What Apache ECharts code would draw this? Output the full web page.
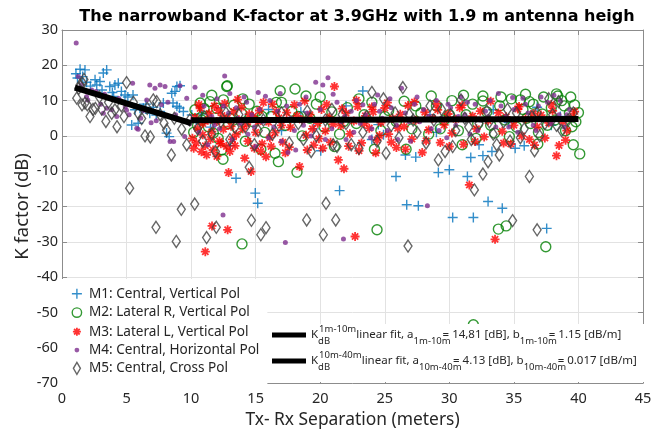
<!DOCTYPE html>
<html><head><meta charset="utf-8">
<script src="https://cdn.jsdelivr.net/npm/echarts@6/dist/echarts.min.js"></script>
<style>html,body{margin:0;padding:0;background:#fff}#c{width:669px;height:430px}</style>
</head><body><div id="c"></div>
<script>
const titleText = 'The narrowband K-factor at 3.9GHz with 1.9 m antenna heigh';
const xName = 'Tx- Rx Separation (meters)';
const yName = 'K factor (dB)';
const seriesNames = ['M1: Central, Vertical Pol','M2: Lateral R, Vertical Pol','M3: Lateral L, Vertical Pol','M4: Central, Horizontal Pol','M5: Central, Cross Pol'];
const fitNames = ['fit1','fit2'];

const m1 = [[1.08,17.6],[1.2,16.4],[1.4,18.9],[1.6,16.8],[1.78,18.7],[1.9,15.2],[2.2,14.1],[2.56,15.9],[2.69,14.4],[2.94,15.4],[3.1,13.0],[3.2,17.8],[3.46,18.7],[3.7,14.0],[3.9,12.3],[4.0,11.2],[4.1,14.4],[4.36,14.9],[4.6,12.6],[4.88,11.6],[5.1,11.0],[5.5,11.6],[5.4,3.1],[5.9,3.6],[5.66,7.4],[6.04,7.8],[6.3,7.8],[6.5,9.0],[6.8,6.4],[7.07,8.1],[7.3,5.9],[7.6,6.9],[7.85,9.3],[8.1,0.8],[8.3,-0.2],[8.5,12.1],[8.75,12.6],[8.9,14.0],[9.14,14.2],[8.6,9.3],[8.9,8.4],[9.1,7.9],[9.4,6.9],[10.05,5.9],[10.4,4.5],
[10.8,6.2],[11.5,2.5],[12.3,8.0],[13.04,-2.8],[13.48,-12.0],[14.2,5.0],[14.97,-16.2],[15.16,-19.1],[16.0,7.5],[17.0,1.5],[18.5,6.8],[19.5,2.0],[20.04,-4.2],[21.5,-15.5],[22.0,8.5],[23.3,12.7],[24.0,-1.0],[24.5,3.2],[24.9,0.3],[25.87,-11.5],[26.6,-5.4],[26.7,-19.5],[27.4,-6.0],[27.6,-19.8],[28.5,6.0],[29.0,1.0],[29.15,-10.4],[30.0,-9.6],[30.26,-23.1],[31.4,-11.5],[31.66,-6.1],[31.86,-23.1],[32.3,-2.5],[32.6,-5.6],[33.0,-18.6],[33.3,-4.4],[33.4,7.4],[34.1,-20.5],[34.6,3.8],[35.1,-3.5],[35.8,-2.8],[36.8,8.1],[37.54,-26.2],[37.9,3.0],[38.6,5.5]];

const m2 = [[10.2,1.0],[10.3,7.4],[10.5,3.0],[10.7,9.3],[10.82,4.5],[11.0,7.8],[11.2,5.6],[11.34,2.6],[11.46,9.7],[11.6,11.5],[11.72,0.8],[11.98,7.8],[12.1,-0.7],[12.37,-4.0],[12.47,-6.6],[12.5,10.2],[12.76,14.0],[12.8,14.2],[12.9,3.5],[13.0,5.0],[13.3,8.7],[13.6,2.0],[13.9,6.5],[13.94,-30.6],[14.0,10.5],[14.2,-1.5],[14.5,9.0],[14.8,4.0],[15.1,7.0],[15.4,-3.8],[15.5,5.5],[15.7,1.0],[16.2,5.5],[16.5,-4.9],[16.6,9.5],[16.76,-7.3],[16.9,12.8],[17.0,9.5],[17.3,3.0],[17.8,7.0],[18.05,13.3],[18.2,-10.3],[18.3,5.5],[18.6,0.0],[18.9,11.3],[19.2,5.0],[19.7,9.0],[20.0,11.0],[20.3,2.5],[20.9,6.8],[21.1,-3.0],[21.5,0.5],[21.8,4.0],[22.1,8.0],[22.8,3.5],[23.0,10.5],[23.4,6.0],[24.0,9.5],[24.2,-3.8],[24.4,-26.6],[24.7,1.5],[25.0,5.5],[25.3,7.2],[25.9,4.0],[26.5,9.8],[26.65,-3.8],[27.1,2.0],[27.4,8.5],[27.8,6.5],[28.4,0.5],[28.6,11.3],[29.0,8.5],[29.3,2.0],[29.6,4.5],[30.0,6.0],[30.2,10.0],[30.7,1.5],[31.0,-2.5],[31.1,11.5],[31.3,6.0],[31.8,9.0],[31.86,-53.5],[32.07,-0.7],[32.2,3.5],[32.6,11.3],[32.6,9.9],[32.9,6.8],[33.2,3.0],[33.5,0.8],[33.8,-26.4],[33.9,8.5],[34.0,11.0],[34.3,4.5],[34.4,-25.5],[34.65,-0.2],[34.8,10.5],[35.2,2.5],[35.5,10.2],[35.7,7.5],[35.9,11.8],[36.0,5.0],[36.2,9.7],[36.3,3.5],[36.5,9.0],[36.85,-2.3],[36.9,1.0],[37.2,6.2],[37.3,11.0],[37.47,-31.4],[37.6,3.0],[37.9,8.0],[38.2,4.5],[38.3,11.9],[38.4,11.3],[38.7,10.0],[38.9,8.5],[39.0,1.5],[39.3,6.5],[39.4,11.0],[39.5,2.6],[39.6,-2.5],[39.7,8.8],[39.8,4.0],[40.0,6.6],[40.1,-5.1]];

const m3 = [[10.1,-0.7],[10.2,-3.5],[10.3,5.2],[10.4,-2.0],[10.5,2.1],[10.6,8.9],[10.7,7.8],[10.8,-4.5],[10.9,3.5],[10.9,0.3],[11.1,-2.8],[11.1,-32.8],[11.2,-5.4],[11.3,4.4],[11.4,6.3],[11.5,-1.0],[11.6,1.2],[11.62,-25.5],[11.7,-4.0],[11.8,8.5],[12.0,4.1],[12.0,-5.8],[12.1,7.3],[12.2,-1.5],[12.3,-2.2],[12.4,5.8],[12.5,1.9],[12.6,9.2],[12.73,-3.0],[12.8,5.0],[12.83,-26.6],[12.9,-10.4],[13.0,-4.4],[13.1,2.7],[13.2,-1.0],[13.3,6.9],[13.4,-2.8],[13.5,0.4],[13.6,10.3],[13.7,4.6],[13.9,8.1],[14.0,2.0],[14.15,-6.3],[14.3,3.3],[14.4,-1.5],[14.5,6.1],[14.64,-10.1],[14.8,5.5],[14.9,-3.5],[15.0,1.0],[15.2,4.0],[15.3,7.2],[15.4,-4.4],[15.5,-2.2],[15.6,9.5],[15.8,-5.9],[16.0,3.9],[16.1,-0.5],[16.2,-3.0],[16.3,9.0],[16.5,0.9],[16.6,6.9],[16.8,5.1],[17.0,3.0],[17.1,-1.8],[17.3,-4.8],[17.4,6.6],[17.6,-3.2],[17.7,2.4],[18.0,8.8],[18.2,5.7],[18.4,-8.7],[18.6,4.5],[18.8,9.9],[18.9,0.2],[19.0,-4.0],[19.2,6.0],[19.4,2.0],[19.5,-2.6],[19.8,3.6],[19.9,-0.8],[20.1,7.5],[20.2,-3.5],[20.4,1.4],[20.5,8.9],[20.7,5.3],[20.8,-1.8],[21.0,3.3],[21.1,14.0],[21.4,-6.8],[21.6,2.9],[21.7,7.7],[21.84,-9.3],[22.0,6.4],[22.2,-2.9],[22.3,0.6],[22.6,4.2],[22.7,-28.5],[22.8,10.1],[22.9,8.3],[23.0,-4.2],[23.2,-2.0],[23.4,3.5],[23.5,5.7],[23.8,2.2],[24.0,8.2],[24.1,6.8],[24.3,-4.8],[24.4,-1.2],[24.6,0.1],[24.7,3.8],[25.0,7.9],[25.2,9.4],[25.3,0.5],[25.5,-1.8],[25.6,4.9],[25.9,-3.3],[26.0,2.2],[26.2,6.1],[26.5,2.6],[26.6,-3.8],[26.8,8.6],[27.1,-0.9],[27.3,9.6],[27.4,4.4],[27.9,-4.7],[28.1,6.7],[28.2,-1.4],[28.4,1.7],[28.7,5.0],[29.0,9.1],[29.1,7.4],[29.3,-1.9],[29.6,3.1],[29.9,6.2],[30.0,-3.0],[30.2,0.8],[30.5,4.7],[30.8,8.0],[31.0,8.7],[31.1,-2.4],[31.55,-13.9],[31.8,5.6],[32.0,-1.6],[32.1,2.0],[32.4,7.0],[32.7,-0.3],[33.0,4.3],[33.2,9.8],[33.54,-29.3],[33.8,6.5],[34.1,1.3],[34.2,-2.0],[34.4,5.4],[34.76,-2.3],[35.0,3.0],[35.3,7.6],[35.4,8.3],[35.6,0.0],[35.9,4.8],[36.2,-1.0],[36.5,6.3],[36.6,-2.6],[36.8,2.5],[37.1,5.9],[37.4,-0.6],[37.7,3.7],[37.9,8.9],[38.0,7.1],[38.3,-5.6],[38.5,-2.7],[38.8,4.0],[39.0,-1.2],[39.1,1.5],[39.4,5.2],[39.7,6.9]];

const m4 = [[1.1,26.3],[1.26,16.8],[1.5,14.5],[1.9,11.1],[2.0,10.2],[2.3,13.0],[2.63,12.6],[3.0,9.0],[3.2,6.4],[3.3,11.8],[3.46,7.8],[3.85,7.4],[4.24,5.5],[4.4,10.6],[4.6,9.8],[4.9,8.2],[5.0,7.3],[5.2,6.0],[5.47,14.9],[5.79,2.2],[5.9,1.9],[6.1,5.0],[6.3,7.2],[6.56,10.2],[6.8,14.4],[6.9,3.7],[7.2,13.5],[7.3,4.3],[7.6,14.4],[7.7,8.8],[7.98,14.0],[8.2,9.5],[8.37,-1.6],[8.65,-1.6],[8.8,6.0],[9.14,14.2],[9.5,-0.2],[9.66,10.7],[9.9,3.5],
[10.1,4.5],[10.3,13.8],[10.6,1.0],[10.9,11.5],[11.0,8.5],[11.3,-2.5],[11.6,5.5],[11.8,3.0],[12.0,10.5],[12.2,2.0],[12.47,-22.4],[12.5,8.5],[12.6,17.0],[12.9,6.5],[13.0,12.0],[13.2,-1.0],[13.5,8.0],[13.6,5.0],[13.8,3.5],[14.1,11.0],[14.3,9.5],[14.4,0.5],[14.7,6.0],[14.9,2.5],[15.0,-3.0],[15.2,12.3],[15.3,7.5],[15.5,4.0],[15.76,11.2],[16.0,-0.5],[16.1,10.0],[16.4,2.5],[16.7,7.0],[16.9,12.0],[17.0,-1.5],[17.3,-30.2],[17.4,8.5],[17.5,-4.7],[17.7,5.0],[18.0,1.5],[18.1,-4.0],[18.4,9.0],[18.7,3.0],[18.9,11.0],[19.0,6.5],[19.3,0.0],[19.6,4.5],[19.65,15.2],[20.0,7.5],[20.2,14.4],[20.4,-1.0],[20.6,16.5],[20.9,2.0],[21.0,11.8],[21.3,9.5],[21.6,4.0],[21.8,-29.2],[21.9,5.5],[22.0,-1.0],[22.4,7.0],[22.6,1.0],[22.8,10.0],[23.1,3.5],[23.3,8.8],[23.5,6.0],[23.9,-0.5],[24.0,2.0],[24.2,9.0],[24.45,11.6],[24.6,7.0],[24.8,5.0],[25.2,1.5],[25.4,10.5],[25.5,8.0],[25.9,3.0],[26.0,-1.0],[26.3,13.5],[26.6,6.5],[26.9,4.0],[27.0,-1.5],[27.3,9.0],[27.5,11.0],[27.7,4.0],[28.0,7.5],[28.3,-19.8],[28.4,5.5],[28.6,2.0],[29.0,10.0],[29.2,1.5],[29.4,5.0],[29.8,-0.5],[29.9,9.0],[30.1,8.0],[30.5,3.0],[30.7,5.5],[30.9,11.0],[31.2,6.0],[31.4,9.5],[31.6,0.5],[32.0,9.0],[32.2,1.5],[32.4,4.5],[32.8,7.0],[33.0,5.5],[33.15,10.0],[33.6,2.5],[33.8,12.0],[34.0,8.5],[34.4,5.5],[34.6,2.5],[34.9,10.9],[35.0,7.5],[35.3,1.0],[35.7,10.7],[35.9,9.0],[36.1,6.5],[36.5,3.0],[36.7,1.5],[36.9,8.5],[37.1,11.0],[37.3,4.5],[37.6,9.5],[37.9,3.5],[38.1,11.5],[38.5,6.0],[38.6,10.0],[38.9,2.5],[39.1,6.0],[39.3,7.5],[39.6,4.5]];

const m5 = [[1.14,10.7],[1.3,13.5],[1.4,14.4],[1.55,8.8],[1.6,14.9],[1.7,16.0],[1.78,9.3],[1.96,8.8],[2.17,5.5],[2.4,7.5],[2.58,7.8],[2.9,11.0],[3.07,7.6],[3.4,4.1],[3.6,9.5],[3.85,6.4],[4.1,7.4],[4.26,2.6],[4.6,8.5],[4.8,5.5],[5.0,15.1],[5.24,-14.8],[5.53,9.5],[5.9,6.4],[6.17,4.9],[6.43,0.0],[6.6,7.8],[6.84,-0.3],[7.07,10.2],[7.28,-25.9],[7.33,9.7],[7.6,6.0],[7.9,3.6],[8.1,1.7],[8.47,-5.4],[8.7,5.0],[8.85,-29.9],[9.24,-20.8],[9.27,1.9],[9.66,-2.5],[9.9,4.5],
[10.28,-19.3],[10.5,2.0],[10.9,-1.5],[11.0,5.5],[11.2,-28.8],[11.6,0.5],[11.88,-4.4],[11.95,-25.9],[12.3,4.0],[12.7,6.5],[13.0,-1.0],[13.4,2.5],[13.7,6.0],[14.2,2.5],[14.5,-8.9],[14.67,-23.9],[14.9,-2.5],[15.2,1.5],[15.4,-28.0],[15.6,4.5],[15.8,-26.0],[16.3,0.5],[16.8,3.0],[17.0,6.5],[17.6,-2.0],[18.3,3.5],[18.7,-1.0],[18.95,-23.8],[19.0,7.0],[19.3,-4.4],[19.7,0.0],[20.24,-28.0],[20.4,4.5],[20.45,-19.1],[20.9,7.5],[21.0,-2.5],[21.2,-23.8],[21.3,-3.0],[21.7,6.0],[22.0,3.5],[22.4,-2.5],[23.0,-3.5],[23.3,1.0],[23.6,5.5],[24.0,12.3],[24.4,-1.5],[24.9,10.5],[25.1,-4.9],[25.5,3.0],[25.8,6.5],[26.1,-0.5],[26.4,13.7],[26.8,-31.2],[26.9,6.0],[27.2,4.5],[27.5,1.0],[28.2,-2.0],[28.5,8.5],[28.8,4.5],[29.15,-6.8],[29.4,7.5],[29.67,-4.4],[30.1,6.0],[30.26,-3.0],[30.5,1.5],[30.9,10.2],[31.2,5.0],[31.5,2.5],[31.7,-1.0],[31.94,-15.3],[32.3,3.5],[32.6,-10.8],[32.9,7.0],[33.0,-7.3],[33.1,4.0],[33.4,0.5],[33.67,-2.5],[33.87,-5.4],[34.2,4.0],[34.5,7.5],[34.7,-1.5],[34.9,-24.0],[35.2,6.5],[35.5,-0.5],[35.8,2.0],[36.2,-11.5],[36.4,5.5],[36.6,-4.2],[36.8,-26.6],[36.8,6.5],[37.0,0.0],[37.4,3.5],[37.7,10.5],[38.0,6.0],[38.3,3.0],[38.45,9.7],[38.7,1.5],[39.2,4.5],[39.6,6.5]];

const fit1 = [[1,13.7],[10,3.6]];
const fit2 = [[10,4.4],[40,4.8]];

const colors = ['#0072BD','#008000','#FF0000','#7E2F8E','#404040'];
const FONT = 'Noto Sans';
const TXT = '#262626';
const AX = '#8c8c8c';

const symPaths = [
  'path://M5,0L5,10M0,5L10,5',
  'circle',
  'path://M5,0L5,10M0,5L10,5M1.5,1.5L8.5,8.5M8.5,1.5L1.5,8.5',
  'circle',
  'diamond'
];
const symSizes = [10, 10, 9, 5, [8,12]];
const legendIcons = [
  'path://M0,0M14,14M7,2L7,12M2,7L12,7',
  'path://M0,0M14,14M7,2.3A4.7,4.7,0,1,1,7,11.7A4.7,4.7,0,1,1,7,2.3Z',
  'path://M0,0M14,14M7,3L7,11M3,7L11,7M4.2,4.2L9.8,9.8M9.8,4.2L4.2,9.8',
  'path://M0,0M14,14M7,4.6A2.4,2.4,0,1,1,7,9.4A2.4,2.4,0,1,1,7,4.6Z',
  'path://M0,0M14,14M7,1L10.5,7L7,13L3.5,7Z'
];
const datasets = [m1,m2,m3,m4,m5];

function styleFor(i){
  if (i === 3) return {color: colors[i], borderWidth: 0};
  return {color: 'rgba(0,0,0,0)', borderColor: colors[i], borderWidth: i===2 ? 1.8 : 1.4};
}

const scatterSeries = datasets.map((d,i)=>({
  type:'scatter', name: seriesNames[i], data: d,
  symbol: symPaths[i], symbolSize: symSizes[i],
  itemStyle: styleFor(i), emphasis:{disabled:true}, z: 2+i*0.01
}));

const fitLabels = {
  fit1: '{m|K}{sb|dB}{sp|1m-10m}{m|linear fit, a}{s1|1m-10m}{m|= 14,81 [dB], b}{s1|1m-10m}{m|= 1.15 [dB/m]}',
  fit2: '{m|K}{sb|dB}{sp|10m-40m}{m|linear fit, a}{s2|10m-40m}{m|= 4.13 [dB], b}{s2|10m-40m}{m|= 0.017 [dB/m]}'
};
const SUBF = 9.5;

const chart = echarts.init(document.getElementById('c'), null, {renderer:'canvas'});
const axisCommon = {
  type:'value',
  axisLine:{show:true, onZero:false, lineStyle:{color:AX, width:1}},
  axisTick:{show:true, inside:true, length:5, lineStyle:{color:AX}},
};
chart.setOption({
  animation:false,
  backgroundColor:'#fff',
  title:{text:titleText, left:352, top:4, textAlign:'center',
    textStyle:{fontFamily:'DejaVu Sans', fontWeight:'bold', fontSize:16, color:'#000'}},
  grid:{left:62, right:26, top:30, bottom:47, containLabel:false, outerBoundsMode:'none'},
  xAxis:[
    Object.assign({}, axisCommon, {min:0, max:45, interval:5, position:'bottom',
      axisLabel:{color:TXT, fontSize:14.5, fontFamily:FONT, margin:8},
      splitLine:{show:true, lineStyle:{color:'#e2e2e2', width:1}},
      name:xName, nameLocation:'middle', nameGap:29, nameMoveOverlap:false,
      nameTextStyle:{fontFamily:FONT, fontSize:17.4, color:TXT}}),
    Object.assign({}, axisCommon, {min:0, max:45, interval:5, position:'top',
      axisLabel:{show:false}, splitLine:{show:false}})
  ],
  yAxis:[
    Object.assign({}, axisCommon, {min:-70, max:30, interval:10, position:'left',
      axisLabel:{color:TXT, fontSize:14.5, fontFamily:FONT, margin:4},
      splitLine:{show:true, lineStyle:{color:'#e2e2e2', width:1}},
      name:yName, nameLocation:'middle', nameGap:30, nameMoveOverlap:false,
      nameTextStyle:{fontFamily:FONT, fontSize:18.5, color:TXT}}),
    Object.assign({}, axisCommon, {min:-70, max:30, interval:10, position:'right',
      axisLabel:{show:false}, splitLine:{show:false}})
  ],
  legend:[
    {
      data: seriesNames.map((n,i)=>({name:n, icon:legendIcons[i], itemStyle:styleFor(i)})),
      orient:'vertical', left:61, top:279, itemWidth:14, itemHeight:14, itemGap:3.5,
      padding:[7,8,9,8], backgroundColor:'#fff', selectedMode:false,
      textStyle:{fontFamily:FONT, fontSize:13.6, color:TXT}
    },
    {
      data: fitNames.map(n=>({name:n, icon:'rect', itemStyle:{color:'#000'}})),
      orient:'vertical', left:266, top:324, itemWidth:34, itemHeight:5, itemGap:4,
      padding:[0,10,10,6], backgroundColor:'#fff', selectedMode:false,
      formatter: n => fitLabels[n],
      textStyle:{fontFamily:FONT, fontSize:11.5, color:TXT,
        rich:{
          m:{fontFamily:FONT, fontSize:11.5, color:TXT, lineHeight:22, verticalAlign:'middle'},
          sp:{fontFamily:FONT, fontSize:SUBF, color:TXT, lineHeight:10, verticalAlign:'top'},
          s1:{fontFamily:FONT, fontSize:SUBF, color:TXT, lineHeight:10, verticalAlign:'bottom', width:29},
          s2:{fontFamily:FONT, fontSize:SUBF, color:TXT, lineHeight:10, verticalAlign:'bottom', width:34},
          sb:{fontFamily:FONT, fontSize:SUBF, color:TXT, lineHeight:10, verticalAlign:'bottom', width:1}
        }}
    }
  ],
  series: scatterSeries.concat([
    {type:'line', name:'fit1', data:fit1, symbol:'none', lineStyle:{color:'#000', width:6}, itemStyle:{color:'#000'}, z:5, emphasis:{disabled:true}},
    {type:'line', name:'fit2', data:fit2, symbol:'none', lineStyle:{color:'#000', width:6}, itemStyle:{color:'#000'}, z:5, emphasis:{disabled:true}}
  ])
});
</script>
</body></html>
